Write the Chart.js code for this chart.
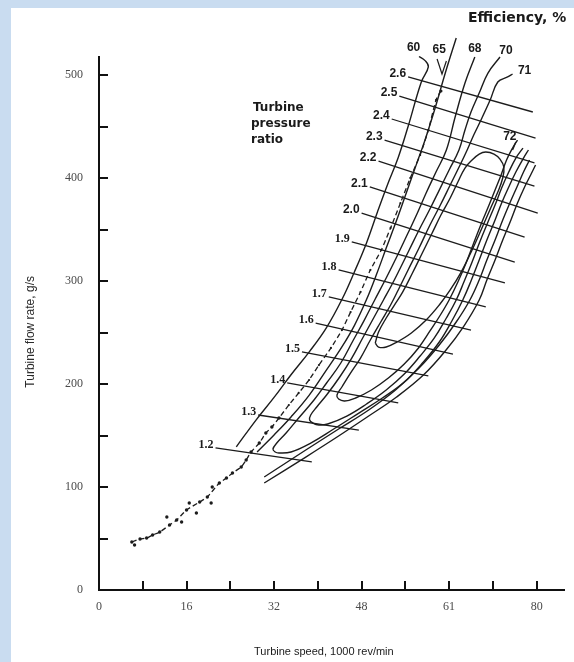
<!DOCTYPE html>
<html><head><meta charset="utf-8">
<script src="https://cdn.jsdelivr.net/npm/chart.js@4"></script>
<style>html,body{margin:0;padding:0;background:#fff;}#wrap{width:574px;height:662px;}</style>
</head><body><div id="wrap"><canvas id="c" width="574" height="662"></canvas></div>
<script>
// ---------- axis ticks ----------
const speedTicks = [0, 8, 16, 24, 32, 40, 48, 56, 64, 72, 80];
const speedTickLabels = {0: '0', 16: '16', 32: '32', 48: '48', 64: '61', 80: '80'};
const flowTicks = [0, 50, 100, 150, 200, 250, 300, 350, 400, 450, 500];
const flowTickLabels = {0: '0', 100: '100', 200: '200', 300: '300', 400: '400', 500: '500'};

// ---------- efficiency contours (speed, 1000 rev/min ; flow, g/s) ----------
const eff60LeftSpeed = [58.5, 59.6, 60.2, 58.9, 56.5, 54.7, 52.7, 50.9, 48.9, 46.7, 44.4, 41.5, 38.4, 35.1, 32.0, 28.7, 25.1];
const eff60LeftFlow  = [518, 514, 508, 493, 450, 420, 393, 367, 337, 309, 282, 254, 231, 209, 187, 165, 139];
const eff60RightSpeed = [30.2, 37.8, 43.8, 49.3, 54.4, 59.3, 63.3, 66.7, 69.5, 70.9, 72.4, 73.8, 75.3, 76.5, 77.8, 78.9, 79.8];
const eff60RightFlow  = [103.9, 129.1, 149.5, 168.9, 187.4, 208.7, 232.0, 256.3, 281.6, 301.0, 320.4, 339.8, 359.2, 375.7, 391.3, 402.9, 412.6];

const eff65LeftSpeed = [65.3, 63.3, 61.5, 59.6, 58.0, 56.2, 54.4, 52.5, 50.7, 48.9, 46.7, 44.4, 41.5, 38.4, 35.1, 32.0, 28.9];
const eff65LeftFlow  = [536, 502, 469, 437, 413, 386, 359, 332, 306, 282, 257, 236, 213, 189, 168, 150.5, 134];
const eff65RightSpeed = [30.2, 37.8, 43.8, 49.3, 54.2, 58.5, 62.2, 65.3, 67.8, 69.5, 70.9, 72.4, 73.8, 75.1, 76.4, 77.6, 78.7];
const eff65RightFlow  = [109.7, 135.9, 156.3, 174.8, 194.2, 215.5, 237.9, 260.2, 281.6, 301.0, 320.4, 339.8, 359.2, 375.7, 391.3, 405.8, 417.5];

const eff68Speed = [68.7, 66.9, 65.1, 63.5, 61.6, 59.8, 58.2, 56.4, 54.5, 52.5, 50.4, 48.5, 46.5, 44.2, 41.6, 39.3, 36.5, 34.2, 32.5, 31.8, 32.2, 32.9, 35.1, 38.7, 42.9, 47.5, 51.8, 55.8, 59.3, 62.2, 64.5, 66.5, 68.0, 69.5, 70.9, 72.4, 73.6, 74.9, 76.2, 77.6, 78.5];
const eff68Flow  = [517.5, 492.2, 459.2, 427.2, 405.8, 385.4, 366.0, 345.6, 324.3, 302.9, 281.6, 262.1, 242.7, 220.4, 201.0, 184.5, 167.0, 152.4, 142.7, 136.9, 134.0, 133.0, 134.0, 142.7, 156.3, 171.8, 186.4, 201.9, 221.4, 240.8, 261.2, 281.6, 300.0, 320.4, 339.8, 359.2, 375.7, 391.3, 405.8, 419.4, 427.2];

const eff70Speed = [73.3, 71.1, 69.5, 68.0, 66.9, 65.8, 64.0, 62.2, 60.4, 58.5, 56.7, 54.9, 53.5, 52.0, 50.2, 48.2, 46.2, 44.0, 41.6, 39.8, 38.7, 38.5, 39.1, 40.2, 41.8, 45.3, 48.9, 52.5, 55.8, 58.7, 61.3, 63.5, 65.3, 66.7, 68.2, 69.6, 71.1, 72.4, 73.6, 74.9, 76.2, 77.5];
const eff70Flow  = [517.5, 501.9, 482.5, 464.1, 446.6, 427.2, 407.8, 388.3, 368.9, 349.5, 330.1, 310.7, 296.1, 281.6, 264.1, 244.7, 225.2, 206.8, 189.3, 177.7, 169.9, 165.0, 162.1, 160.2, 161.2, 168.9, 180.6, 194.2, 209.7, 227.2, 244.7, 264.1, 281.6, 299.0, 318.4, 337.9, 357.3, 373.8, 390.3, 405.8, 419.4, 429.1];

const eff71Speed = [75.6, 74.7, 72.9, 71.5, 70.0, 68.5, 67.3, 66.0, 64.2, 62.4, 60.5, 58.5, 56.5, 54.7, 53.3, 51.5, 49.6, 47.8, 46.0, 44.4, 43.5, 43.8, 44.9, 46.9, 49.8, 52.9, 55.8, 58.4, 60.5, 62.4, 64.0, 65.6, 67.1, 68.5, 70.0, 71.3, 72.4, 73.5, 74.5, 75.6, 76.5];
const eff71Flow  = [501.0, 498.1, 493.2, 475.7, 458.3, 441.7, 427.2, 412.6, 393.2, 373.8, 354.4, 332.0, 310.7, 291.3, 276.7, 260.2, 242.7, 225.2, 210.7, 197.1, 189.3, 185.4, 183.5, 186.4, 194.2, 205.8, 219.4, 235.0, 251.5, 267.0, 281.6, 299.0, 317.5, 336.9, 357.3, 373.8, 388.3, 402.9, 417.5, 429.1, 436.9];

const eff72Speed = [50.5, 51.1, 52.5, 54.0, 55.5, 57.3, 59.1, 60.9, 62.5, 64.2, 65.6, 66.9, 68.2, 69.5, 70.7, 72.2, 73.3, 74.0, 73.8, 72.9, 71.6, 70.0, 68.2, 66.2, 64.2, 62.2, 59.8, 57.1, 54.5, 52.5, 51.1, 50.5];
const eff72Flow  = [239.8, 250.5, 264.1, 276.7, 289.3, 307.8, 327.2, 346.6, 364.1, 380.6, 396.1, 409.7, 417.5, 423.3, 425.2, 423.3, 418.4, 410.7, 400.0, 386.4, 370.9, 351.5, 330.1, 308.7, 291.3, 276.7, 262.1, 249.5, 240.8, 235.9, 235.9, 239.8];

// label leaders
const lead65Speed = [61.8, 62.7, 63.5];
const lead65Flow  = [515.5, 501.0, 513.6];
const lead72Speed = [76.2, 75.6];
const lead72Flow  = [435.0, 427.2];

// ---------- turbine pressure ratio lines ----------
const prLabels     = ['1.2', '1.3', '1.4', '1.5', '1.6', '1.7', '1.8', '1.9', '2.0', '2.1', '2.2', '2.3', '2.4', '2.5', '2.6'];
const prStartSpeed = [21.3, 29.1, 34.4, 37.1, 39.6, 42.0, 43.8, 46.2, 48.0, 49.5, 51.1, 52.2, 53.5, 54.9, 56.5];
const prStartFlow  = [137.9, 169.9, 201.0, 231.1, 259.2, 284.5, 310.7, 337.9, 366.0, 391.3, 416.5, 436.9, 457.3, 479.6, 498.1];
const prEndSpeed   = [38.9, 47.5, 54.7, 60.2, 64.7, 68.0, 70.7, 74.2, 76.0, 77.8, 80.2, 79.6, 79.6, 79.8, 79.3];
const prEndFlow    = [124.3, 155.3, 181.6, 207.8, 229.1, 252.4, 274.8, 298.1, 318.4, 342.7, 366.0, 392.2, 414.6, 438.8, 464.1];

// ---------- test points ----------
const testSpeed = [6.0, 7.5, 8.7, 9.8, 11.1, 12.9, 14.2, 16.0, 18.4, 19.8, 22.0, 23.3, 24.4, 26.0, 26.9, 27.8, 29.3, 30.5, 31.6, 32.9, 34.7, 36.5, 38.4, 40.2, 42.4, 44.4, 46.0, 47.8, 49.6, 51.6, 53.3, 55.1, 56.9, 58.7, 60.2, 61.6, 62.5];
const testFlow  = [46.6, 49.5, 50.5, 53.4, 56.3, 63.1, 68.0, 77.7, 85.4, 90.3, 103.9, 108.7, 113.6, 119.4, 126.2, 134.0, 142.7, 152.4, 158.3, 167.0, 179.6, 191.3, 203.9, 218.4, 235.0, 252.4, 269.9, 289.3, 310.7, 330.1, 351.5, 375.7, 400.0, 422.3, 446.6, 475.7, 484.5];
const scatterSpeed = [6.5, 12.4, 15.1, 16.5, 17.8, 20.5, 20.7];
const scatterFlow  = [43.7, 70.9, 66.0, 84.5, 74.8, 84.5, 100.0];

// ---------- efficiency labels ----------
const effLabels = ['60', '65', '68', '70', '71', '72'];
const effLabelSpeed = [57.5, 62.2, 68.7, 74.4, 77.8, 75.1];
const effLabelFlow  = [526.2, 524.3, 525.2, 523.3, 503.9, 439.8];

// ---------- build datasets ----------
const pts = (xs, ys) => xs.map((x, i) => ({x, y: ys[i]}));
const INK = '#1c1c1c';
function curve(xs, ys, extra) {
  return Object.assign({data: pts(xs, ys), showLine: true, borderColor: INK, borderWidth: 1.4,
    pointRadius: 0, tension: 0.4, fill: false, clip: false}, extra || {});
}
const datasets = [
  curve(eff60LeftSpeed, eff60LeftFlow), curve(eff60RightSpeed, eff60RightFlow),
  curve(eff65LeftSpeed, eff65LeftFlow), curve(eff65RightSpeed, eff65RightFlow),
  curve(eff68Speed, eff68Flow), curve(eff70Speed, eff70Flow), curve(eff71Speed, eff71Flow),
  curve(eff72Speed, eff72Flow),
  curve(lead65Speed, lead65Flow, {tension: 0, borderWidth: 1.2}),
  curve(lead72Speed, lead72Flow, {tension: 0, borderWidth: 1.3})
];
prLabels.forEach((l, i) => {
  datasets.push(curve([prStartSpeed[i], prEndSpeed[i]], [prStartFlow[i], prEndFlow[i]], {tension: 0, borderWidth: 1.3}));
});
datasets.push(curve(testSpeed, testFlow, {borderWidth: 1.3, borderDash: [5, 3], tension: 0.2,
  pointRadius: c => (c.dataIndex < 20 ? 1.7 : (c.dataIndex === testSpeed.length - 1 ? 1.6 : 1.1)),
  pointBackgroundColor: INK, pointBorderWidth: 0}));
datasets.push({data: pts(scatterSpeed, scatterFlow), showLine: false, pointRadius: 1.7,
  pointBackgroundColor: INK, pointBorderWidth: 0});

// ---------- plugins ----------
const bgPlugin = {
  id: 'bg',
  beforeDraw(chart) {
    const ctx = chart.ctx;
    ctx.save();
    ctx.fillStyle = '#c9dcf0';
    ctx.fillRect(0, 0, chart.width, chart.height);
    ctx.fillStyle = '#ffffff';
    ctx.fillRect(11, 8, chart.width - 11, chart.height - 8);
    ctx.restore();
  }
};
const tickPlugin = {
  id: 'inTicks',
  afterDraw(chart) {
    const {ctx, chartArea: a, scales: {x, y}} = chart;
    ctx.save();
    ctx.strokeStyle = '#111';
    ctx.lineWidth = 2;
    speedTicks.forEach(v => {
      if (v === 0) return;
      const px = Math.round(x.getPixelForValue(v));
      ctx.beginPath(); ctx.moveTo(px, a.bottom); ctx.lineTo(px, a.bottom - 9); ctx.stroke();
    });
    flowTicks.forEach(v => {
      if (v === 0) return;
      const py = Math.round(y.getPixelForValue(v));
      ctx.beginPath(); ctx.moveTo(a.left, py); ctx.lineTo(a.left + 9, py); ctx.stroke();
    });
    ctx.restore();
  }
};
const textPlugin = {
  id: 'texts',
  afterDraw(chart) {
    const {ctx, scales: {x, y}} = chart;
    ctx.save();
    ctx.fillStyle = '#1a1a1a';
    ctx.textBaseline = 'middle';
    prLabels.forEach((t, i) => {
      const px = x.getPixelForValue(prStartSpeed[i]);
      const py = y.getPixelForValue(prStartFlow[i]);
      ctx.font = t.charAt(0) === '1' ? 'bold 12px "Liberation Serif"' : 'bold 12px "Liberation Sans"';
      ctx.textAlign = 'right';
      ctx.fillText(t, px - 2, py - 3);
    });
    ctx.font = 'bold 12px "Liberation Sans"';
    ctx.textAlign = 'center';
    effLabels.forEach((t, i) => {
      ctx.fillText(t, x.getPixelForValue(effLabelSpeed[i]), y.getPixelForValue(effLabelFlow[i]));
    });
    ctx.font = 'bold 12px "DejaVu Sans"';
    ctx.textAlign = 'left';
    ctx.fillText('Turbine', 253, 108);
    ctx.fillText('pressure', 251, 124);
    ctx.fillText('ratio', 251, 140);
    ctx.font = 'bold 14px "DejaVu Sans"';
    ctx.fillText('Efficiency, %', 468, 18);
    ctx.restore();
  }
};

new Chart(document.getElementById('c'), {
  type: 'scatter',
  data: {datasets},
  options: {
    responsive: false, animation: false, events: [],
    layout: {padding: {top: 57, right: 7, left: 0, bottom: 0}},
    plugins: {legend: {display: false}, tooltip: {enabled: false}},
    scales: {
      x: {
        type: 'linear', min: 0, max: 85,
        grid: {display: false, drawTicks: false},
        border: {display: true, color: '#111', width: 2},
        ticks: {stepSize: 8, autoSkip: false, maxRotation: 0, padding: 10, color: '#4a4a4a',
          font: {family: '"Liberation Serif"', size: 12},
          callback: v => (speedTickLabels[v] !== undefined ? speedTickLabels[v] : '')},
        title: {display: true, text: 'Turbine speed, 1000 rev/min\u00a0\u00a0\u00a0\u00a0\u00a0', color: '#1a1a1a',
          font: {family: '"Liberation Sans"', size: 11}, padding: {top: 0, bottom: 3}},
        afterFit: s => { s.height = 72; }
      },
      y: {
        type: 'linear', min: 0, max: 517.5,
        grid: {display: false, drawTicks: false},
        border: {display: true, color: '#111', width: 2},
        ticks: {stepSize: 50, autoSkip: false, padding: 16, color: '#4a4a4a',
          font: {family: '"Liberation Serif"', size: 12},
          callback: v => (flowTickLabels[v] !== undefined ? flowTickLabels[v] : '')},
        title: {display: true, text: 'Turbine flow rate, g/s\u00a0\u00a0\u00a0\u00a0\u00a0', color: '#2a2a2a',
          font: {family: '"Liberation Sans"', size: 12}, padding: {top: 23, bottom: 0}},
        afterFit: s => { s.width = 99; }
      }
    }
  },
  plugins: [bgPlugin, tickPlugin, textPlugin]
});
</script>
</body></html>
